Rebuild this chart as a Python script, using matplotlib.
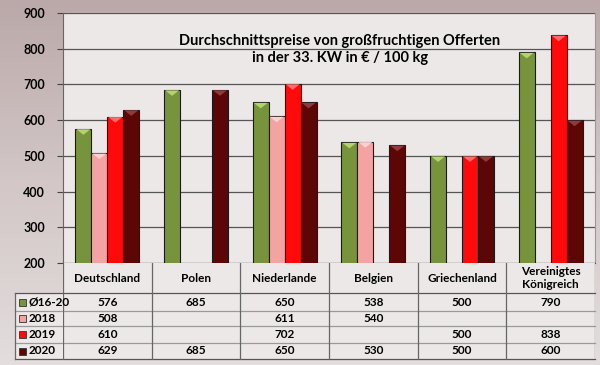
import numpy as np
import matplotlib.pyplot as plt
from matplotlib.colors import LinearSegmentedColormap

plt.rcParams['font.family'] = ['Lato', 'DejaVu Sans']
plt.rcParams['font.weight'] = 'bold'

# --- data ---
countries = ["Deutschland", "Polen", "Niederlande", "Belgien", "Griechenland",
             "Vereinigtes\nKönigreich"]
series_names = ["Ø16-20", "2018", "2019", "2020"]
avg_16_20 = [576, 685, 650, 538, 500, 790]
y2018 = [508, np.nan, 611, 540, np.nan, np.nan]
y2019 = [610, np.nan, 702, np.nan, 500, 838]
y2020 = [629, 685, 650, 530, 500, 600]
series = [avg_16_20, y2018, y2019, y2020]

colors = ['#77933c', '#f4a3a3', '#ff0a0a', '#5c0606']
tops = ['#b4d36f', '#fbd0d0', '#ff6a6a', '#8e3b3b']

fig = plt.figure(figsize=(6, 3.65), dpi=100)

# background: darker reddish grey at the top, lighter toward the bottom
bg = fig.add_axes([0, 0, 1, 1], zorder=-10)
bg.axis('off')
grad = np.linspace(0, 1, 100).reshape(-1, 1)
cmap = LinearSegmentedColormap.from_list('bg', ['#bba9a9', '#d3c7c7', '#e3dddd'])
bg.imshow(grad, aspect='auto', cmap=cmap, extent=[0, 1, 0, 1], origin='upper')

ax = fig.add_axes([63 / 600, 1 - 263 / 365, 532 / 600, 250 / 365])
ax.set_facecolor('#ece8e7')

x = np.arange(len(countries))
w = 0.18
for i, (vals, c, tc) in enumerate(zip(series, colors, tops)):
    bars = ax.bar(x + (i - 1.5) * w, vals, width=w, bottom=0, color=c,
                  edgecolor='#1a1a1a', linewidth=0.8, zorder=3)
    # bevel triangle on top of every bar
    for b in bars:
        h = b.get_height()
        if np.isnan(h):
            continue
        x0, bw = b.get_x(), b.get_width()
        ax.fill([x0 + 0.06 * bw, x0 + 0.94 * bw, x0 + 0.5 * bw],
                [h - 1.5, h - 1.5, h - 17], color=tc, zorder=4, lw=0)

ax.set_ylim(200, 900)
ax.set_xlim(-0.5, len(countries) - 0.5)
ax.set_yticks(range(200, 901, 100))
ax.tick_params(axis='y', labelsize=9, length=4, color='#444', pad=9)
ax.set_xticks([])
ax.grid(axis='y', color='#555', linewidth=0.9, zorder=1)
ax.spines['top'].set_visible(False)
ax.spines['left'].set_color('#666')
ax.spines['bottom'].set_color('#555')
ax.spines['right'].set_color('#999')

ax.text(0.52, 0.915, "Durchschnittspreise von großfruchtigen Offerten\nin der 33. KW in € / 100 kg",
        transform=ax.transAxes, ha='center', va='top', fontsize=10.5,
        fontweight='bold', linespacing=1.25, zorder=5)

# --- data table below the chart ---
tax = fig.add_axes([63 / 600, 1 - 360 / 365, 532 / 600, 97 / 365])
tax.set_xlim(-0.5, len(countries) - 0.5)
tax.set_ylim(97, 0)
tax.axis('off')
unit = 532 / len(countries)
left = -0.5 - 48 / unit
tax.add_patch(plt.Rectangle((-0.5, 0), len(countries), 96, color='#ece8e7', zorder=0))
tax.add_patch(plt.Rectangle((left, 30), -0.5 - left, 66, color='#ece8e7',
                            zorder=0, clip_on=False))

row_edges = [0, 30, 48, 63, 80, 96]
for k, yy in enumerate(row_edges[1:]):
    lc = '#555' if k in (0, 4) else '#9a9a9a'
    tax.plot([left, len(countries) - 0.5], [yy, yy], color=lc, lw=0.9, clip_on=False)
for xv in np.arange(-0.5, len(countries), 1.0):
    tax.plot([xv, xv], [0, 96], color='#666', lw=0.9)
tax.plot([left, left], [30, 96], color='#666', lw=0.9, clip_on=False)

for i, name in enumerate(countries):
    tax.text(i, 15, name, ha='center', va='center', fontsize=8.5, linespacing=1.2)

for r, (name, vals, c) in enumerate(zip(series_names, series, colors)):
    yc = (row_edges[r + 1] + row_edges[r + 2]) / 2
    tax.add_patch(plt.Rectangle((left + 0.04, yc - 3.5), 0.08, 7, facecolor=c,
                                edgecolor='#333', lw=0.6, clip_on=False))
    tax.text(left + 0.15, yc, name, ha='left', va='center', fontsize=8.5, clip_on=False)
    for i, v in enumerate(vals):
        if not np.isnan(v):
            tax.text(i, yc, f"{v:.0f}", ha='center', va='center', fontsize=8.5)

fig.savefig('out.png', dpi=100)
